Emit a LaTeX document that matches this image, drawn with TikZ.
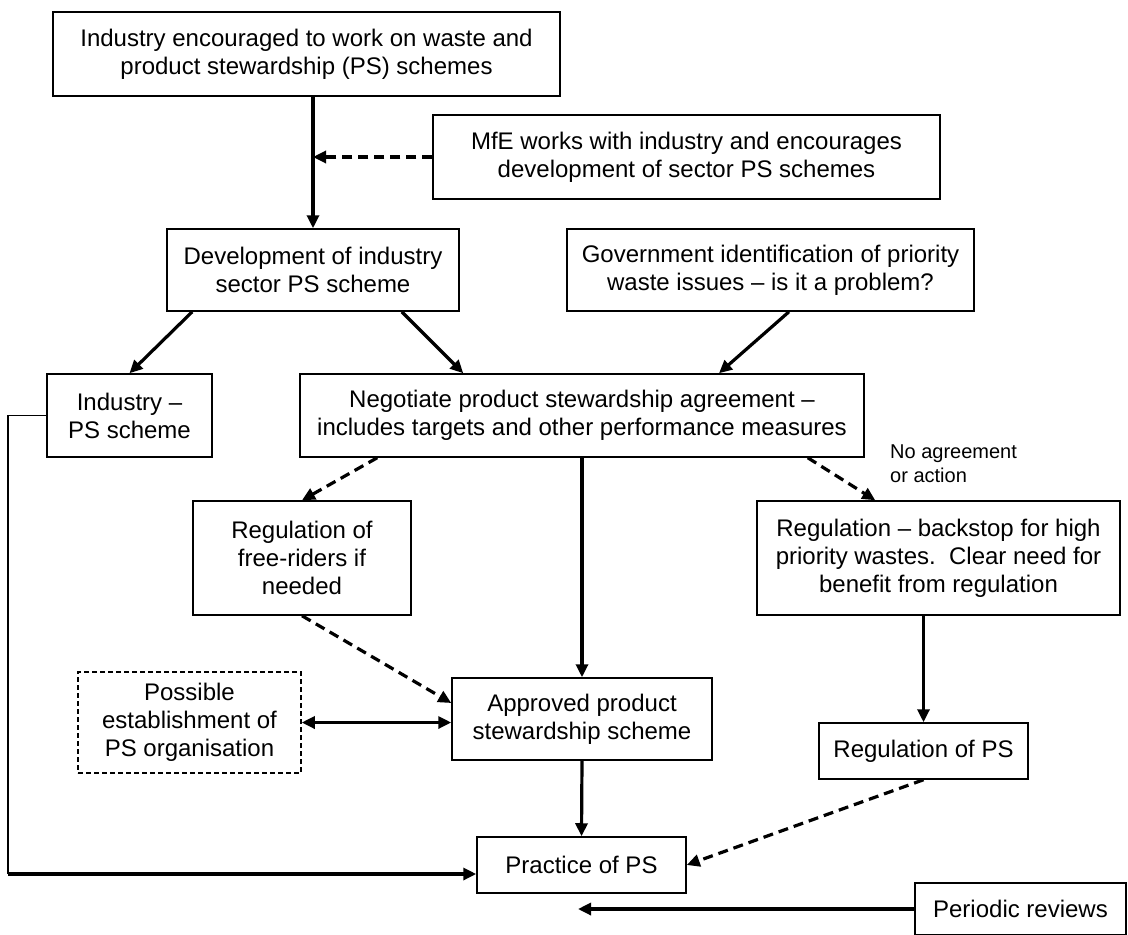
\documentclass[tikz,border=0pt]{standalone}
\usepackage{fontspec}
\setmainfont{Liberation Sans}
\usetikzlibrary{arrows.meta}
\begin{document}
\begin{tikzpicture}[x=1pt,y=-1pt,
  box/.style={draw, line width=1.5pt, inner sep=0pt, align=center, font=\fontsize{24}{28}\selectfont},
  dbox/.style={box, dash pattern=on 5pt off 3pt},
  tip/.tip={Triangle[length=13pt,width=12pt]},
  conn/.style={line width=3.2pt, -tip},
  dconn/.style={conn, dash pattern=on 10pt off 6pt},
  biconn/.style={line width=3.2pt, tip-tip},
  thinline/.style={line width=1.5pt},
  lbl/.style={inner sep=0pt, align=left, font=\fontsize{20}{24}\selectfont}
]
\useasboundingbox (0,0) rectangle (1128,935);

\node[box, minimum width=507pt, minimum height=84pt] (top) at (306.5,54) {Industry encouraged to work on waste and\\product stewardship (PS) schemes};
\node[box, minimum width=507pt, minimum height=84pt] (mfe) at (686.5,157) {MfE works with industry and encourages\\development of sector PS schemes};
\node[box, minimum width=292pt, minimum height=82pt] (dev) at (313,270) {Development of industry\\sector PS scheme};
\node[box, minimum width=407pt, minimum height=82pt] (gov) at (770.5,270) {Government identification of priority\\waste issues – is it a problem?};
\node[box, minimum width=165pt, minimum height=83pt] (ind) at (129.5,415.5) {Industry –\\PS scheme};
\node[box, minimum width=564pt, minimum height=83pt] (neg) at (582,415.5) {Negotiate product stewardship agreement –\\includes targets and other performance measures};
\node[box, minimum width=218pt, minimum height=114pt] (free) at (302,558) {Regulation of\\free-riders if\\needed};
\node[box, minimum width=363pt, minimum height=114pt] (back) at (938.5,558) {Regulation – backstop for high\\priority wastes.\ \ Clear need for\\benefit from regulation};
\node[dbox, minimum width=223pt, minimum height=101pt] (poss) at (189.5,722.5) {Possible\\establishment of\\PS organisation};
\node[box, minimum width=260pt, minimum height=82pt] (appr) at (582,719) {Approved product\\stewardship scheme};
\node[box, minimum width=209pt, minimum height=56pt] (regps) at (923.5,751) {Regulation of PS};
\node[box, minimum width=209pt, minimum height=56pt] (prac) at (581.5,865) {Practice of PS};
\node[box, minimum width=211pt, minimum height=52pt] (per) at (1020.5,909) {Periodic reviews};
\node[lbl, anchor=west] (lab) at (890,464) {No agreement\\or action};

\draw[conn] (top.south -| dev.north) -- (dev.north);
\draw[dconn] (mfe.west) -- (mfe.west -| dev.north);
\draw[conn] ([xshift=26pt]dev.south west) -- (ind.north);
\draw[conn] ([xshift=-58pt]dev.south east) -- ([xshift=164pt]neg.north west);
\draw[conn] ([xshift=18.5pt]gov.south) -- ([xshift=137pt]neg.north);
\draw[dconn] ([xshift=78pt]neg.south west) -- (free.north);
\draw[conn] (neg.south) -- (appr.north);
\draw[dconn] ([xshift=-57pt]neg.south east) -- ([xshift=119pt]back.north west);
\draw[dconn] (free.south) -- ([yshift=16pt]appr.west);
\draw[biconn] (poss.east) -- (poss.east -| appr.west);
\draw[conn] (appr.south) -- (prac.north);
\draw[conn] (regps.north |- back.south) -- (regps.north);
\draw[dconn] (regps.south) -- (prac.east);
\coordinate (corner) at (8,874);
\draw[thinline] (ind.west) -| (corner);
\draw[conn] (corner) -- (corner -| prac.west);
\coordinate (pend) at (578,909);
\draw[conn] (per.west) -- (pend);
\end{tikzpicture}
\end{document}
